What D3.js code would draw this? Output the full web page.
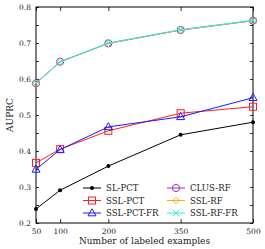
<!DOCTYPE html>
<html>
<head>
<meta charset="utf-8">
<script src="https://cdn.jsdelivr.net/npm/d3@7"></script>
<style>
  html, body { margin: 0; padding: 0; background: #fff; }
  svg { display: block; }
</style>
</head>
<body>
<div id="chart"></div>
<script>
// data
var samples = [50, 100, 200, 350, 500];
var slPct    = [0.239, 0.291, 0.358, 0.445, 0.480];
var sslPct   = [0.367, 0.405, 0.456, 0.505, 0.523];
var sslPctFr = [0.349, 0.404, 0.467, 0.495, 0.548];
var clusRf   = [0.588, 0.648, 0.699, 0.736, 0.762];
var sslRf    = [0.588, 0.648, 0.699, 0.736, 0.762];
var sslRfFr  = [0.589, 0.647, 0.700, 0.737, 0.763];
var yTicks = [0.2, 0.3, 0.4, 0.5, 0.6, 0.7, 0.8];

var FONT = "DejaVu Serif";

var series = [
  {name: "SL-PCT", values: slPct, color: "#000000", marker: "dot"},
  {name: "SSL-PCT", values: sslPct, color: "#ff2020", marker: "square"},
  {name: "SSL-PCT-FR", values: sslPctFr, color: "#1a1aff", marker: "triangle"},
  {name: "CLUS-RF", values: clusRf, color: "#9b30c0", marker: "circle"},
  {name: "SSL-RF", values: sslRf, color: "#ffaa22", marker: "diamond"},
  {name: "SSL-RF-FR", values: sslRfFr, color: "#22eeee", marker: "cross"}
];

var W = 265, H = 249;
var margin = {left: 36, right: 12, top: 7, bottom: 26};
var w = W - margin.left - margin.right;
var h = H - margin.top - margin.bottom;

var svg = d3.select("#chart").append("svg")
    .attr("width", W)
    .attr("height", H);
var g = svg.append("g")
    .attr("transform", "translate(" + margin.left + "," + margin.top + ")");

var x = d3.scaleLinear().domain([50, 500]).range([0, w]);
var y = d3.scaleLinear().domain([0.2, 0.8]).range([h, 0]);

// ticks (inward), minor every 0.05 on y
var minorY = d3.range(0.2, 0.8001, 0.05);
function drawAxes() {
  var xb = d3.axisBottom(x).tickValues(samples).tickSize(-4).tickPadding(6)
      .tickFormat(d3.format("d"));
  var xt = d3.axisTop(x).tickValues(samples).tickSize(-4).tickFormat("");
  var yl = d3.axisLeft(y).tickValues(minorY).tickSize(-3).tickPadding(5)
      .tickFormat(function(d) {
        var r = Math.round(d * 100);
        return r % 10 === 0 ? d3.format(".1f")(d) : "";
      });
  var yr = d3.axisRight(y).tickValues(minorY).tickSize(-3).tickFormat("");

  var ax = [
    g.append("g").attr("transform", "translate(0," + h + ")").call(xb),
    g.append("g").call(xt),
    g.append("g").call(yl),
    g.append("g").attr("transform", "translate(" + w + ",0)").call(yr)
  ];
  ax.forEach(function(a) {
    a.attr("font-family", FONT);
    a.select(".domain").remove();
    a.selectAll("line").attr("stroke", "#000").attr("stroke-width", 0.8);
    a.selectAll("text").attr("font-size", 7.5).attr("fill", "#222")
        .attr("font-family", FONT);
  });
}
drawAxes();

// frame
g.append("rect")
    .attr("width", w)
    .attr("height", h)
    .attr("fill", "none")
    .attr("stroke", "#000")
    .attr("stroke-width", 1);

function drawMarker(sel, m, color) {
  if (m === "dot") {
    sel.append("circle").attr("r", 2).attr("fill", color);
  } else if (m === "square") {
    sel.append("rect").attr("x", -3.5).attr("y", -3.5)
        .attr("width", 7).attr("height", 7)
        .attr("fill", "none").attr("stroke", color).attr("stroke-width", 1);
  } else if (m === "triangle") {
    sel.append("path").attr("d", "M0,-4.2L4,2.8L-4,2.8Z")
        .attr("fill", "none").attr("stroke", color).attr("stroke-width", 1);
  } else if (m === "circle") {
    sel.append("circle").attr("r", 3.6)
        .attr("fill", "none").attr("stroke", color).attr("stroke-width", 1);
  } else if (m === "diamond") {
    sel.append("path").attr("d", "M0,-3.3L3.3,0L0,3.3L-3.3,0Z")
        .attr("fill", "none").attr("stroke", color).attr("stroke-width", 1);
  } else if (m === "cross") {
    sel.append("path").attr("d", "M-3.2,-3.2L3.2,3.2M-3.2,3.2L3.2,-3.2")
        .attr("fill", "none").attr("stroke", color).attr("stroke-width", 1);
  }
}

var line = d3.line()
    .x(function(d, i) { return x(samples[i]); })
    .y(function(d) { return y(d); });

series.forEach(function(s) {
  g.append("path")
      .datum(s.values)
      .attr("fill", "none")
      .attr("stroke", s.color)
      .attr("stroke-width", 1)
      .attr("d", line);
  s.values.forEach(function(v, i) {
    var mg = g.append("g")
        .attr("transform", "translate(" + x(samples[i]) + "," + y(v) + ")");
    drawMarker(mg, s.marker, s.color);
  });
});

// legend
var legend = g.append("g");
series.forEach(function(s, i) {
  var col = Math.floor(i / 3), row = i % 3;
  var lx = col === 0 ? 47 : 131;
  var ly = 181 + row * 12.5;
  var item = legend.append("g").attr("transform", "translate(" + lx + "," + ly + ")");
  item.append("line")
      .attr("x1", 0).attr("x2", 18)
      .attr("stroke", s.color).attr("stroke-width", 1);
  drawMarker(item.append("g").attr("transform", "translate(9,0)"), s.marker, s.color);
  item.append("text")
      .attr("x", 23)
      .attr("dy", "0.35em")
      .attr("font-family", FONT)
      .attr("font-size", 8.6)
      .attr("fill", "#222")
      .text(s.name);
});

// axis titles
svg.append("text")
    .attr("x", margin.left + w / 2)
    .attr("y", 244)
    .attr("text-anchor", "middle")
    .attr("font-family", FONT)
    .attr("font-size", 9)
    .attr("fill", "#222")
    .text("Number of labeled examples");

svg.append("text")
    .attr("transform", "translate(13," + (margin.top + h / 2) + ") rotate(-90)")
    .attr("text-anchor", "middle")
    .attr("font-family", FONT)
    .attr("font-size", 9)
    .attr("fill", "#222")
    .text("AUPRC");
</script>
</body>
</html>
